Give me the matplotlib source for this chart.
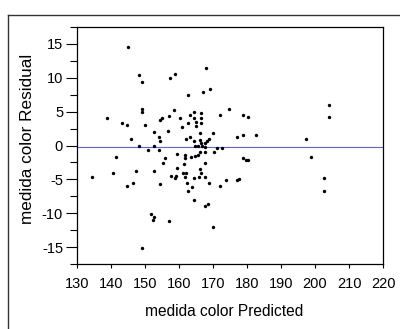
#!/usr/bin/env python3
"""
Residual by predicted plot for 'medida color'.
Scatter of residuals vs predicted values with a zero reference line.
"""

import matplotlib
matplotlib.use('Agg')
import matplotlib.pyplot as plt
from matplotlib.lines import Line2D
from matplotlib.ticker import MultipleLocator

plt.rcParams['font.family'] = ['Liberation Sans', 'DejaVu Sans']
plt.rcParams['axes.unicode_minus'] = False

# Predicted values (x) and residuals (y)
predicted = [
    134.3, 138.8, 140.5, 141.5, 143.2, 144.6, 144.6, 145.1, 146.0, 146.4,
    147.4, 148.2, 148.3, 149.2, 149.2, 149.2, 149.2, 150.0, 151.0, 151.8,
    152.6, 152.4, 152.7, 152.7, 152.7, 154.1, 154.1, 154.5, 154.5, 154.5,
    155.0, 155.4, 155.9, 156.7, 157.1, 157.3, 157.2, 157.6, 158.8, 158.6,
    158.7, 159.0, 159.4, 159.4, 160.3, 160.9, 161.3, 161.6, 161.9, 161.9,
    161.8, 162.2, 162.2, 162.3, 162.5, 162.6, 162.7, 163.1, 163.1, 163.5,
    163.7, 164.4, 164.5, 164.5, 164.5, 164.5, 164.7, 164.8, 164.9, 164.9,
    165.7, 165.7, 166.0, 166.2, 166.2, 166.4, 166.3, 166.4, 166.6, 166.6,
    166.6, 166.7, 166.2, 167.7, 167.5, 167.5, 167.5, 167.5, 167.5, 167.1,
    168.0, 168.2, 168.8, 168.5, 168.9, 169.0, 169.9, 169.9, 170.2, 171.2,
    172.1, 172.1, 172.6, 173.9, 174.8, 177.1, 177.1, 177.6, 178.9, 178.9,
    178.9, 179.7, 180.3, 180.2, 182.5, 197.4, 198.7, 202.7, 202.7, 204.1,
    204.1,
]
residual = [
    -4.6, 4.0, -4.0, -1.7, 3.3, 3.1, -6.0, 14.5, 1.0, -5.6,
    -3.75, 10.4, 0.0, 9.45, 5.4, 4.9, -15.1, 3.1, -0.6, -10.1,
    -10.6, -11.0, 2.0, 0.0, -3.75, -0.6, 1.3, 0.6, -5.7, 3.7,
    4.0, -2.6, -1.9, 2.2, 4.3, 9.9, -11.2, -4.55, 10.5, 5.2,
    -4.85, -4.5, -1.3, -3.25, 4.0, 2.7, -4.05, -2.8, -1.4, -1.9,
    -4.7, -4.05, 0.9, -5.5, 3.3, 7.4, -6.7, 1.3, 4.45, -1.7,
    -6.2, -8.05, 4.9, 4.0, 0.7, -4.85, -1.5, 0.0, 3.4, 2.9,
    0.0, -1.4, -4.6, -0.9, -3.5, -4.0, 0.8, 4.05, 4.85, 3.3,
    0.35, -0.1, 1.9, -0.15, 0.35, -1.0, -2.6, -4.6, -8.9, 7.9,
    11.5, 0.7, 1.0, -8.6, -5.5, 8.3, 1.9, -12.1, -1.0, -0.3,
    4.45, -6.0, -0.3, -5.1, 5.4, 1.3, -5.1, -4.9, 4.45, 1.5,
    -1.9, -2.2, -2.2, 4.25, 1.5, 1.0, -1.7, -4.85, -6.7, 6.0,
    4.2,
]

# Reference line (mean residual)
ref_level = -0.15

fig = plt.figure(figsize=(4.0, 3.29), dpi=100)

# Outer report frame (only top and left edges are visible)
frame_kw = dict(color='#333333', linewidth=1.0, transform=fig.transFigure)
fig.add_artist(Line2D([8 / 400, 1.0], [1 - 15 / 329, 1 - 15 / 329], **frame_kw))
fig.add_artist(Line2D([8 / 400, 8 / 400], [0.0, 1 - 15 / 329], **frame_kw))

ax = fig.add_axes([77 / 400, 65 / 329, 306 / 400, 237 / 329])

ax.scatter(predicted, residual, s=6, color='black', marker='o', linewidths=0, zorder=3)
ax.axhline(ref_level, color='#6060ee', linewidth=0.8, zorder=2)

ax.set_xlim(130, 220)
ax.set_ylim(-17.5, 17.5)

ax.xaxis.set_major_locator(MultipleLocator(10))
ax.yaxis.set_major_locator(MultipleLocator(5))
ax.yaxis.set_minor_locator(MultipleLocator(2.5))

ax.tick_params(axis='x', which='major', length=3, width=0.8, pad=6, labelsize=10.5)
ax.tick_params(axis='y', which='major', length=8, width=0.8, pad=2, labelsize=10.5)
ax.tick_params(axis='y', which='minor', length=5, width=0.8)

for spine in ax.spines.values():
    spine.set_linewidth(0.9)

# Axis titles placed like the report layout
fig.text(224 / 400, 1 - 312 / 329, 'medida color Predicted', ha='center', va='center',
         fontsize=11.2)
fig.text(28 / 400, 1 - 138.5 / 329, 'medida color Residual', ha='center', va='center',
         rotation=90, fontsize=12.3)

plt.savefig('out.png', dpi=100)
